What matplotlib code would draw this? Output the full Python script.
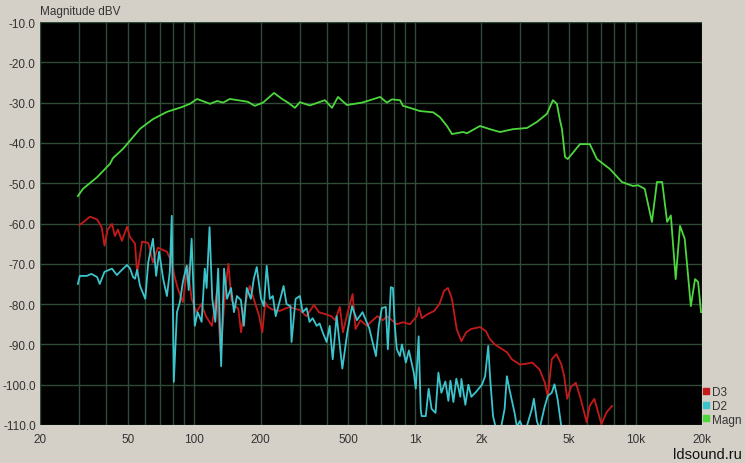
import matplotlib

matplotlib.use("Agg")
import matplotlib.pyplot as plt
from matplotlib.lines import Line2D
from matplotlib.ticker import FixedLocator, LogLocator, NullFormatter

# Magnitude response (green)
magn_freq = [29.7, 31.3, 36.3, 41.5, 42.8, 47.5, 49.6, 56.8, 65.0, 75.2, 88, 95.7, 103,
             118, 127, 135, 145, 166, 175, 188, 205, 230, 250, 266, 286, 301, 334, 391,
             421, 448, 492, 576, 626, 695, 747, 787, 856, 883, 949, 1054, 1208, 1298,
             1397, 1472, 1652, 1722, 1972, 2188, 2428, 2780, 3220, 3572, 3963, 4220, 4400,
             4540, 4640, 4790, 4930, 5600, 6200, 6680, 7660, 8670, 9730, 10260, 11000,
             11860, 12500, 13200, 13900, 14450, 15200, 15900, 16700, 17800, 18600, 19200,
             19800]
magn_db = [-53.2, -51.4, -48.5, -45.2, -43.8, -41.5, -40.3, -36.5, -34.1, -32.3, -31.1,
           -30.3, -29.1, -30.3, -29.6, -30.0, -29.1, -29.6, -29.8, -30.8, -30.0, -27.6,
           -29.1, -30.0, -31.3, -29.9, -30.7, -29.4, -31.3, -28.6, -30.6, -30.0, -29.4,
           -28.6, -30.0, -29.2, -29.4, -30.8, -31.3, -32.1, -32.4, -33.6, -35.8, -37.8,
           -37.3, -37.6, -35.8, -36.6, -37.3, -36.6, -36.3, -34.8, -32.8, -29.4, -30.3,
           -34.3, -36.6, -43.5, -44.0, -40.3, -40.3, -44.0, -46.5, -49.7, -50.7, -50.5,
           -51.4, -59.6, -49.7, -49.7, -59.6, -58.0, -73.8, -60.6, -63.8, -80.5, -73.8,
           -74.5, -82.0]

# Third harmonic distortion (red)
d3_freq = [30.2, 31.7, 33.7, 36.3, 38.1, 39.2, 40.5, 42.4, 43.7, 45.1, 47.0, 49.6, 51.2,
           53.9, 55.1, 58.0, 61.9, 65.0, 68.4, 75.2, 79.1, 81.6, 84.3, 88.8, 93.3, 97.3,
           102.3, 107.6, 113, 120.3, 126.6, 131.8, 138.7, 142.9, 147.4, 153.6, 158.4,
           163, 169.9, 178.5, 188, 197, 203.5, 209.8, 214, 225, 244, 270, 301, 322, 349,
           367, 393, 418, 435, 457, 472, 496, 522, 538, 566, 605, 675, 716, 747, 795,
           828, 883, 949, 1020, 1042, 1075, 1141, 1223, 1291, 1356, 1412, 1472, 1546,
           1625, 1708, 1795, 1971, 2097, 2187, 2300, 2490, 2620, 2750, 2990, 3200, 3400,
           3670, 3880, 4000, 4170, 4380, 4610, 4750, 4900, 5100, 5360, 5640, 6000, 6190,
           6500, 6700, 7000, 7400, 7820]
d3_db = [-60.4, -59.5, -58.3, -59.0, -61.0, -65.5, -61.5, -60.1, -63.1, -61.5, -64.3,
         -60.8, -63.4, -65.0, -72.4, -64.5, -64.8, -69.7, -66.0, -67.0, -69.6, -73.3,
         -76.2, -79.5, -70.5, -78.7, -82.0, -80.0, -83.0, -85.4, -77.0, -92.0, -75.5,
         -70.0, -79.0, -80.5, -81.2, -87.0, -80.0, -75.5, -79.5, -83.0, -87.0, -79.5,
         -80.5, -81.3, -81.7, -80.7, -81.5, -83.0, -80.2, -82.0, -82.5, -83.0, -84.0,
         -80.7, -87.0, -82.0, -77.5, -86.2, -84.0, -85.4, -83.0, -84.0, -83.0, -84.2,
         -85.0, -84.5, -85.0, -83.0, -80.8, -83.5, -82.5, -81.7, -80.0, -76.7, -76.0,
         -78.7, -86.2, -89.2, -87.0, -86.2, -85.7, -86.7, -88.7, -90.0, -91.2, -92.0,
         -93.7, -95.0, -94.8, -94.5, -96.2, -99.5, -103.0, -93.7, -92.4, -95.0, -97.9,
         -103.5, -100.5, -99.5, -103.5, -109.3, -105.3, -103.5, -106.0, -109.8, -106.8,
         -105.3]

# Second harmonic distortion (cyan)
d2_freq = [29.7, 30.3, 32.6, 34.2, 36.3, 37.3, 39.2, 42.4, 44.6, 47.0, 49.6, 51.2, 52.8,
           53.9, 55.1, 56.8, 60, 61.9, 65.0, 67.2, 69.3, 72.3, 75.2, 77.5, 79.1, 80.8,
           83.5, 86.1, 88.8, 92.4, 94.4, 97.3, 100.6, 103.6, 108, 111.6, 113.8, 117.3,
           120.7, 124.6, 128.4, 132.4, 136.5, 140.8, 146.8, 151.4, 156.1, 162.7, 167.8,
           173, 180.5, 186.2, 192, 200.5, 206.8, 213, 220, 227, 234, 246, 254, 262, 273,
           276, 288, 301, 310, 323, 333, 344, 359, 370, 382, 398, 411, 424, 442, 469,
           494, 519, 546, 579, 621, 666, 686, 708, 738, 754, 778, 795, 811, 828, 855,
           873, 910, 939, 988, 1009, 1040, 1062, 1073, 1120, 1154, 1190, 1240, 1278,
           1318, 1374, 1418, 1448, 1494, 1541, 1607, 1624, 1693, 1747, 1802, 1892, 2013,
           2080, 2150, 2190, 2260, 2310, 2430, 2550, 2610, 2690, 2780, 2830, 2900, 2990,
           3150, 3390, 3460, 3570, 3670, 3870, 4000, 4170, 4290, 4430, 4610]
d2_db = [-75.0, -73.0, -73.0, -72.5, -73.3, -75.0, -72.0, -71.2, -72.8, -71.5, -70.3,
         -71.2, -73.3, -73.7, -71.5, -75.5, -78.7, -69.6, -63.8, -73.0, -67.0, -73.7,
         -78.0, -72.0, -58.1, -99.3, -82.0, -79.5, -74.5, -70.5, -76.5, -63.8, -85.4,
         -82.0, -84.4, -71.2, -76.0, -60.9, -78.7, -84.4, -71.2, -95.4, -71.2, -78.7,
         -76.0, -82.0, -78.0, -79.0, -85.4, -76.0, -78.7, -73.7, -70.8, -78.5, -80.5,
         -70.5, -78.7, -78.0, -83.0, -78.5, -75.5, -80.0, -80.5, -89.4, -78.7, -78.0,
         -82.0, -81.0, -84.4, -83.5, -85.4, -84.8, -87.0, -89.4, -85.4, -93.7, -83.0,
         -96.0, -87.0, -80.5, -84.0, -82.0, -86.0, -92.9, -85.4, -81.0, -80.7, -91.2,
         -75.8, -76.0, -85.4, -91.2, -92.9, -90.0, -94.5, -91.5, -97.0, -101.0, -88.0,
         -106.0, -107.8, -107.8, -101.0, -106.0, -107.0, -97.0, -102.0, -99.2, -104.0,
         -99.0, -104.3, -98.5, -103.0, -98.6, -105.0, -100.0, -103.0, -101.8, -100.0,
         -97.9, -90.4, -98.0, -107.8, -110.0, -112.0, -106.0, -97.9, -101.5, -105.0,
         -107.0, -110.5, -109.0, -112.0, -106.0, -103.5, -109.0, -111.0, -105.5, -102.8,
         -102.0, -99.9, -103.5, -110.5]

x_ticks = [20, 50, 100, 200, 500, 1000, 2000, 5000, 10000, 20000]
x_tick_labels = ["20", "50", "100", "200", "500", "1k", "2k", "5k", "10k", "20k"]
y_ticks = [-10, -20, -30, -40, -50, -60, -70, -80, -90, -100, -110]

BG = "#d4d0c8"
GRID = "#2f4a37"
TEXT = "#333333"
C_MAGN = "#4cd83c"
C_D3 = "#c41a1a"
C_D2 = "#3cc4cc"

plt.rcParams["font.family"] = ["Liberation Sans", "DejaVu Sans"]

fig = plt.figure(figsize=(7.45, 4.64), dpi=100, facecolor=BG)
ax = fig.add_axes([40 / 745, 1 - 426 / 464, 662 / 745, 403 / 464])
ax.set_facecolor("black")

ax.plot(d3_freq, d3_db, color=C_D3, linewidth=1.3)
ax.plot(d2_freq, d2_db, color=C_D2, linewidth=1.3)
ax.plot(magn_freq, magn_db, color=C_MAGN, linewidth=1.3)

ax.set_xscale("log")
ax.set_xlim(20, 20000)
ax.set_ylim(-110, -10)

ax.xaxis.set_major_locator(FixedLocator(x_ticks))
ax.set_xticklabels(x_tick_labels)
ax.xaxis.set_minor_locator(LogLocator(base=10, subs=range(2, 10), numticks=20))
ax.xaxis.set_minor_formatter(NullFormatter())
ax.set_yticks(y_ticks)
ax.set_yticklabels([f"{v:.1f}" for v in y_ticks])

ax.grid(True, which="both", axis="x", color=GRID, linewidth=1.0)
ax.grid(True, which="major", axis="y", color=GRID, linewidth=1.0)
ax.set_axisbelow(True)
ax.tick_params(which="both", length=0, labelsize=8.5, labelcolor=TEXT)
ax.tick_params(axis="x", pad=6)
ax.tick_params(axis="y", pad=3)
for spine in ax.spines.values():
    spine.set_visible(False)

fig.text(40 / 745, 1 - 12 / 464, "Magnitude dBV", fontsize=8.5, color=TEXT, va="center")

handles = [
    Line2D([], [], marker="s", linestyle="none", color=C_D3, markersize=4, label="D3"),
    Line2D([], [], marker="s", linestyle="none", color=C_D2, markersize=4, label="D2"),
    Line2D([], [], marker="s", linestyle="none", color=C_MAGN, markersize=4, label="Magn"),
]
fig.legend(handles=handles, loc="upper left", bbox_to_anchor=(704 / 745, 1 - 387 / 464),
           frameon=False, fontsize=8.5, handlelength=0.4, handletextpad=0.3,
           labelspacing=0.15, borderpad=0, borderaxespad=0, labelcolor=TEXT)

fig.text(742 / 745, 1 - 455 / 464, "ldsound.ru", fontsize=10.5, color="#111111",
         ha="right", va="center")

fig.savefig("out.png", dpi=100, facecolor=BG)
